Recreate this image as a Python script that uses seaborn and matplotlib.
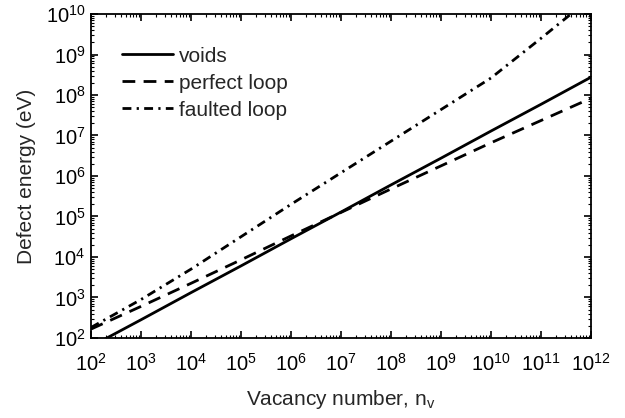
import numpy as np
import pandas as pd
import seaborn as sns
import matplotlib
matplotlib.use("Agg")
import matplotlib.pyplot as plt
from matplotlib.ticker import LogLocator, NullFormatter

# log10 of vacancy number at which energies are tabulated
log_n = [2, 3, 4, 5, 6, 7, 8, 9, 10, 11, 12]

# log10 of defect energy (eV) for each defect type
log_e_voids = [1.79, 2.45, 3.12, 3.78, 4.45, 5.11, 5.78, 6.44, 7.11, 7.77, 8.44]
log_e_perfect = [2.22, 2.78, 3.35, 3.93, 4.52, 5.10, 5.68, 6.25, 6.82, 7.37, 7.92]
log_e_faulted = [2.26, 2.95, 3.70, 4.50, 5.30, 6.08, 6.86, 7.64, 8.42, 9.40, 10.40]

labels = ["voids", "perfect loop", "faulted loop"]
x_ticks = [10.0 ** k for k in range(2, 13)]
y_ticks = [10.0 ** k for k in range(2, 11)]

sns.set_style("ticks")
plt.rcParams["font.family"] = ["Liberation Sans", "DejaVu Sans"]
plt.rcParams["mathtext.default"] = "regular"

fig = plt.figure(figsize=(6.25, 4.18), dpi=100)
ax = fig.add_axes([0.1456, 0.1914, 0.80, 0.7751])

n = np.power(10.0, log_n)
series = [log_e_voids, log_e_perfect, log_e_faulted]
styles = ["-", (0, (4.6, 3.0)), (0, (3.2, 1.9, 0.8, 1.9))]

for lab, vals, ls in zip(labels, series, styles):
    df = pd.DataFrame({"n": n, "E": np.power(10.0, vals)})
    sns.lineplot(data=df, x="n", y="E", ax=ax, color="black", lw=2.0,
                 linestyle=ls, label=lab)

ax.set_xscale("log")
ax.set_yscale("log")
ax.set_xlim(1e2, 1e12)
ax.set_ylim(1e2, 1e10)
ax.set_xticks(x_ticks)
ax.set_yticks(y_ticks)
ax.xaxis.set_minor_locator(LogLocator(base=10, subs=np.arange(2, 10), numticks=100))
ax.yaxis.set_minor_locator(LogLocator(base=10, subs=np.arange(2, 10), numticks=100))
ax.xaxis.set_minor_formatter(NullFormatter())
ax.yaxis.set_minor_formatter(NullFormatter())

ax.tick_params(which="both", direction="in", top=True, right=True, colors="black")
ax.tick_params(which="major", length=5, width=1.2, labelsize=14.5)
ax.tick_params(which="minor", length=2.5, width=0.8)
ax.tick_params(axis="x", which="major", pad=11)
ax.tick_params(axis="y", which="major", pad=4)
for sp in ax.spines.values():
    sp.set_linewidth(1.3)
    sp.set_color("black")

ax.set_xlabel("Vacancy number, n$_v$", fontsize=15, labelpad=9)
ax.set_ylabel("Defect energy (eV)", fontsize=15, labelpad=7)

leg = ax.legend(loc="upper left", bbox_to_anchor=(0.062, 0.899), frameon=False,
                fontsize=15, handlelength=2.45, handletextpad=0.3, labelspacing=0.38,
                borderaxespad=0, borderpad=0)

fig.savefig("out.png", dpi=100)
